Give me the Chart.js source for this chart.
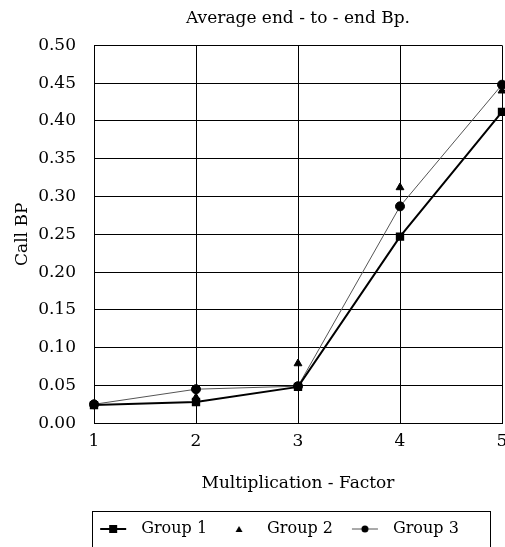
<!DOCTYPE html>
<html>
<head>
<meta charset="utf-8">
<script src="https://cdn.jsdelivr.net/npm/chart.js@4.4.0/dist/chart.umd.min.js"></script>
<style>
  html, body { margin: 0; padding: 0; background: #fff; }
  #wrap { width: 505px; height: 547px; position: relative; }
</style>
</head>
<body>
<div id="wrap"><canvas id="bp-chart"></canvas></div>
<script>
// ======
// data
// ======
var factors = [1, 2, 3, 4, 5];
var group1 = [0.024, 0.028, 0.048, 0.247, 0.412];
var group2 = [0.025, 0.034, 0.079, 0.312, 0.440];
var group3 = [0.025, 0.045, 0.049, 0.287, 0.448];
var seriesNames = ['Group 1', 'Group 2', 'Group 3'];

var serif = '"DejaVu Serif", "Liberation Serif", serif';

// small legend icons: line + marker
function legendIcon(kind) {
    var c = document.createElement('canvas');
    c.width = 28; c.height = 12;
    var g = c.getContext('2d');
    g.fillStyle = '#000';
    if (kind === 'square') {
        g.strokeStyle = '#000'; g.lineWidth = 2;
        g.beginPath(); g.moveTo(1, 6); g.lineTo(27, 6); g.stroke();
        g.fillRect(10, 2, 8, 8);
    } else if (kind === 'triangle') {
        g.beginPath(); g.moveTo(14, 3); g.lineTo(17.5, 9); g.lineTo(10.5, 9); g.closePath(); g.fill();
    } else {
        g.strokeStyle = '#555'; g.lineWidth = 1;
        g.beginPath(); g.moveTo(1, 6); g.lineTo(27, 6); g.stroke();
        g.beginPath(); g.arc(14, 6, 3.5, 0, Math.PI * 2); g.fill();
    }
    return c;
}
var icons = [legendIcon('square'), legendIcon('triangle'), legendIcon('circle')];

// centre title over the plot, shift legend, frame the legend
var tweaks = {
    id: 'tweaks',
    afterLayout: function(chart) {
        var ca = chart.chartArea;
        var tb = chart.titleBlock;
        tb.left = ca.left; tb.right = ca.right; tb.width = ca.right - ca.left;
        chart.legend.left += 25;
        chart.legend.right += 25;
    },
    afterDraw: function(chart) {
        var ctx = chart.ctx;
        ctx.save();
        ctx.strokeStyle = '#000';
        ctx.lineWidth = 1;
        ctx.strokeRect(92.5, 511.5, 398, 60);
        ctx.restore();
    }
};

var ctx = document.getElementById('bp-chart').getContext('2d');
new Chart(ctx, {
    type: 'line',
    data: {
        labels: factors,
        datasets: [{
            label: seriesNames[0],
            data: group1,
            borderColor: '#000',
            backgroundColor: '#000',
            borderWidth: 2,
            pointStyle: 'rect',
            pointRadius: 4.5,
            tension: 0,
            order: 1
        }, {
            label: seriesNames[1],
            data: group2,
            showLine: false,
            borderColor: '#000',
            backgroundColor: '#000',
            pointStyle: 'triangle',
            pointRadius: 4.5,
            order: 0
        }, {
            label: seriesNames[2],
            data: group3,
            borderColor: '#555',
            backgroundColor: '#000',
            pointBorderColor: '#000',
            borderWidth: 1,
            pointStyle: 'circle',
            pointRadius: 4.5,
            tension: 0,
            order: 2
        }]
    },
    options: {
        responsive: true,
        maintainAspectRatio: false,
        animation: false,
        layout: { autoPadding: false, padding: { left: 0, right: 3, top: 0, bottom: 0 } },
        plugins: {
            title: {
                display: true,
                text: 'Average end - to - end Bp.',
                color: '#000',
                font: { family: serif, size: 17, weight: 'normal' },
                padding: { top: 8, bottom: 17 }
            },
            legend: {
                display: true,
                position: 'bottom',
                labels: {
                    color: '#000',
                    font: { family: serif, size: 16 },
                    usePointStyle: true,
                    pointStyleWidth: 40,
                    padding: 12,
                    generateLabels: function(chart) {
                        return seriesNames.map(function(n, i) {
                            return {
                                text: n,
                                pointStyle: icons[i],
                                datasetIndex: i,
                                fontColor: '#000',
                                hidden: false,
                                lineWidth: 0
                            };
                        });
                    }
                }
            },
            tooltip: { enabled: false }
        },
        scales: {
            x: {
                afterFit: function(s) { s.paddingLeft = 0; s.paddingRight = 0; },
                grid: { color: '#000', lineWidth: 1, drawTicks: false },
                border: { color: '#000' },
                ticks: { color: '#000', font: { family: serif, size: 17 }, padding: 8, maxRotation: 0 },
                title: {
                    display: true,
                    text: 'Multiplication - Factor',
                    color: '#000',
                    font: { family: serif, size: 17 },
                    padding: { top: 14, bottom: 15 }
                }
            },
            y: {
                min: 0,
                max: 0.5,
                afterFit: function(s) { s.width = 94; },
                grid: { color: '#000', lineWidth: 1, drawTicks: false },
                border: { color: '#000' },
                ticks: {
                    stepSize: 0.05,
                    color: '#000',
                    font: { family: serif, size: 17 },
                    padding: 18,
                    callback: function(v) { return v.toFixed(2); }
                },
                title: {
                    display: true,
                    text: 'Call BP',
                    color: '#000',
                    font: { family: serif, size: 17 },
                    padding: { top: 12, bottom: 2 }
                }
            }
        }
    },
    plugins: [tweaks]
});
</script>
</body>
</html>
